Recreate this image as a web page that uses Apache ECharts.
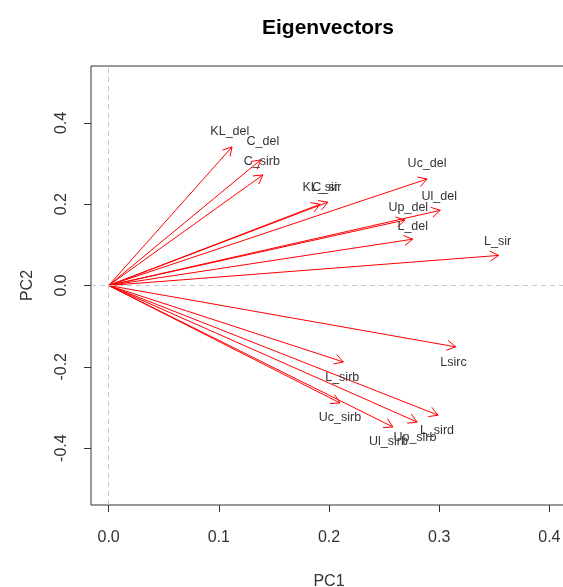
<!DOCTYPE html>
<html><head><meta charset="utf-8">
<script src="https://cdn.jsdelivr.net/npm/echarts@6/dist/echarts.min.js"></script>
<style>html,body{margin:0;padding:0;background:#fff}#c{width:563px;height:587px}</style>
</head><body><div id="c"></div>
<script>
// Eigenvector loadings (PC1, PC2)
const names  = ['KL_del','C_del','C_sirb','KL_sir','C_sir','Uc_del','Ul_del','Up_del','L_del','L_sir',
                'Lsirc','L_sirb','Uc_sirb','Ul_sirb','Up_sirb','L_sird'];
const pc1    = [0.112, 0.138, 0.140, 0.192, 0.199, 0.289, 0.301, 0.269, 0.276, 0.354,
                0.315, 0.213, 0.210, 0.258, 0.280, 0.299];
const pc2    = [0.341, 0.309, 0.272, 0.200, 0.205, 0.262, 0.185, 0.161, 0.114, 0.074,
                -0.151, -0.188, -0.289, -0.348, -0.336, -0.319];
// label anchor positions (data units)
const labelX = [0.110, 0.140, 0.139, 0.192, 0.198, 0.289, 0.300, 0.272, 0.276, 0.353,
                0.313, 0.212, 0.210, 0.254, 0.278, 0.298];
const labelY = [0.378, 0.353, 0.306, 0.240, 0.240, 0.299, 0.220, 0.193, 0.146, 0.109,
                -0.190, -0.227, -0.326, -0.385, -0.375, -0.358];
const xTicks = [0, 0.1, 0.2, 0.3, 0.4];
const yTicks = [-0.4, -0.2, 0, 0.2, 0.4];

const FONT = 'Liberation Sans, Arial, Helvetica, sans-serif';
const chart = echarts.init(document.getElementById('c'), null, {renderer: 'canvas'});

const arrowData = names.map((n, i) => [pc1[i], pc2[i]]);
const labelData = names.map((n, i) => [labelX[i], labelY[i]]);

chart.setOption({
  animation: false,
  backgroundColor: '#fff',
  title: {
    text: 'Eigenvectors', left: 257, top: 13,
    textStyle: {fontSize: 21, fontWeight: 'bold', color: '#000', fontFamily: FONT}
  },
  grid: {
    left: 91, top: 66, width: 476, height: 439,
    show: true, borderColor: '#333', borderWidth: 1, backgroundColor: 'transparent',
    containLabel: false, outerBoundsMode: 'none'
  },
  xAxis: {
    type: 'value', min: -0.016, max: 0.416, position: 'bottom',
    splitLine: {show: false},
    axisLine: {show: false, onZero: false},
    axisTick: {show: true, customValues: xTicks, length: 7, inside: false, lineStyle: {color: '#333'}},
    axisLabel: {customValues: xTicks, formatter: v => v.toFixed(1), fontSize: 16, color: '#333',
                fontFamily: FONT, margin: 25, showMinLabel: true, showMaxLabel: true},
    name: 'PC1', nameLocation: 'middle', nameGap: 69,
    nameTextStyle: {fontSize: 16, color: '#333', fontFamily: FONT}
  },
  yAxis: {
    type: 'value', min: -0.54, max: 0.54, position: 'left',
    splitLine: {show: false},
    axisLine: {show: false, onZero: false},
    axisTick: {show: true, customValues: yTicks, length: 7, inside: false, lineStyle: {color: '#333'}},
    axisLabel: {customValues: yTicks, formatter: v => v.toFixed(1), fontSize: 16, color: '#333',
                fontFamily: FONT, margin: 21, rotate: 90, showMinLabel: true, showMaxLabel: true},
    name: 'PC2', nameLocation: 'middle', nameGap: 55, nameRotate: 90,
    nameTextStyle: {fontSize: 16, color: '#333', fontFamily: FONT}
  },
  series: [
    {
      type: 'scatter', data: [], silent: true,
      markLine: {
        silent: true, symbol: 'none', animation: false,
        label: {show: false},
        lineStyle: {color: '#c8c8c8', type: [5, 4], width: 1},
        emphasis: {disabled: true},
        data: [{xAxis: 0}, {yAxis: 0}]
      }
    },
    {
      type: 'custom', silent: true, clip: false,
      data: arrowData,
      renderItem: function (params, api) {
        const p0 = api.coord([0, 0]);
        const p1 = api.coord([api.value(0), api.value(1)]);
        const ang = Math.atan2(p1[1] - p0[1], p1[0] - p0[0]);
        const L = 10, a = Math.PI / 6;
        const h1 = [p1[0] - L * Math.cos(ang - a), p1[1] - L * Math.sin(ang - a)];
        const h2 = [p1[0] - L * Math.cos(ang + a), p1[1] - L * Math.sin(ang + a)];
        return {
          type: 'group',
          children: [
            {type: 'line', shape: {x1: p0[0], y1: p0[1], x2: p1[0], y2: p1[1]},
             style: {stroke: '#ff0000', lineWidth: 1}},
            {type: 'polyline', shape: {points: [h1, p1, h2]},
             style: {stroke: '#ff0000', fill: null, lineWidth: 1}}
          ]
        };
      }
    },
    {
      type: 'custom', silent: true, clip: false,
      data: labelData,
      renderItem: function (params, api) {
        const p = api.coord([api.value(0), api.value(1)]);
        return {
          type: 'text', x: p[0], y: p[1],
          style: {text: names[params.dataIndex], fill: '#333', fontSize: 12.5, fontFamily: FONT,
                  align: 'center', verticalAlign: 'middle', textAlign: 'center', textVerticalAlign: 'middle'}
        };
      }
    }
  ]
});
</script>
</body></html>
